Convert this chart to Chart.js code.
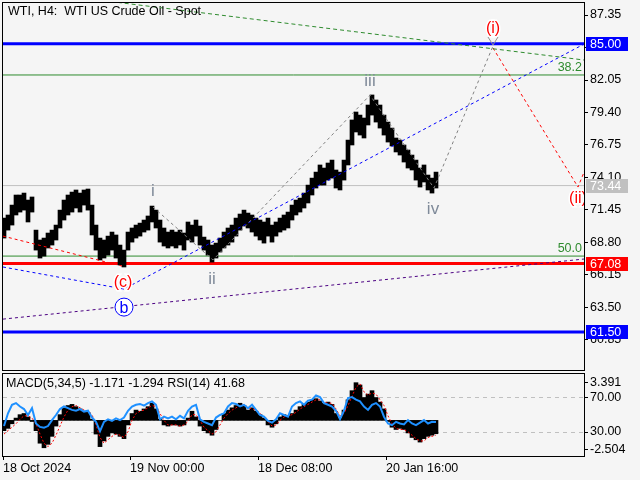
<!DOCTYPE html>
<html>
<head>
<meta charset="utf-8">
<script src="https://cdn.jsdelivr.net/npm/chart.js@4.4.1/dist/chart.umd.min.js"></script>
<style>
  html, body { margin: 0; padding: 0; background: #f5f5f5; }
  #wrap { position: relative; width: 640px; height: 480px; overflow: hidden; }
  canvas { position: absolute; left: 0; }
  #main { top: 0; }
  #sub { top: 372px; }
</style>
</head>
<body>
<div id="wrap">
  <canvas id="main" width="640" height="372"></canvas>
  <canvas id="sub" width="640" height="108"></canvas>
</div>
<script>
const FONT = '"Liberation Sans", Arial, sans-serif';
Chart.defaults.font.family = FONT;
Chart.defaults.font.size = 12.5;
Chart.defaults.color = '#000';

// axis ticks
const priceTicks = [87.35, 84.70, 82.05, 79.40, 76.75, 74.10, 71.45, 68.80, 66.15, 63.50, 60.85];
const macdTicks = [3.391, -2.504];
const rsiTicks = [70, 30];
const timeTicks = [0, 127, 255, 383];
const timeLabels = ['18 Oct 2024', '19 Nov 00:00', '18 Dec 08:00', '20 Jan 16:00'];

// price range per step (high / low)
const highs = [
  70.79, 71.04, 71.85, 72.67, 72.67, 72.83, 72.26, 72.51, 69.81, 69.00,
  69.16, 69.57, 69.81, 70.22, 71.44, 72.26, 72.67, 72.91, 73.08, 72.83,
  73.08, 73.16, 71.85, 70.22, 69.16, 69.00, 69.32, 69.65, 69.41, 68.59,
  68.18, 69.65, 69.98, 70.22, 70.38, 70.63, 70.96, 71.77, 71.44, 70.63,
  69.98, 69.65, 69.81, 69.65, 69.81, 69.57, 70.47, 70.22, 70.63, 70.14,
  69.24, 69.00, 68.59, 68.75, 69.16, 69.65, 69.98, 70.22, 70.79, 71.12,
  71.44, 71.20, 71.04, 70.79, 70.63, 70.47, 70.79, 70.22, 70.47, 70.79,
  71.04, 71.28, 71.85, 72.26, 72.42, 72.83, 73.48, 74.05, 74.54, 75.12,
  74.87, 75.28, 75.52, 74.71, 74.54, 75.52, 77.15, 78.79, 79.44, 79.19,
  78.95, 80.01, 80.83, 80.42, 80.01, 79.19, 78.62, 78.13, 77.32, 77.15,
  76.75, 76.34, 75.93, 75.52, 74.87, 75.12, 74.30, 74.05, 74.54
];
const lows = [
  69.16, 69.81, 70.22, 71.04, 71.28, 71.44, 70.47, 71.28, 68.18, 67.53,
  67.69, 68.35, 68.59, 69.00, 69.98, 70.63, 71.04, 71.28, 71.61, 71.28,
  71.85, 71.44, 69.41, 68.18, 67.37, 67.53, 67.77, 68.18, 67.53, 66.96,
  66.80, 68.18, 68.83, 69.16, 69.32, 69.65, 69.81, 70.47, 69.98, 68.83,
  68.51, 68.35, 68.51, 68.35, 68.59, 68.18, 69.00, 68.83, 69.32, 68.59,
  68.18, 67.77, 67.20, 67.53, 68.02, 68.35, 68.59, 68.83, 69.32, 69.81,
  70.14, 69.98, 69.65, 69.32, 69.00, 68.75, 69.32, 68.83, 69.32, 69.65,
  69.81, 69.98, 70.63, 71.04, 71.28, 71.61, 72.02, 72.67, 73.24, 73.48,
  73.48, 73.89, 74.05, 73.24, 73.08, 73.89, 75.12, 76.75, 77.81, 77.56,
  77.32, 78.38, 79.19, 78.62, 78.13, 77.56, 76.99, 76.67, 76.18, 75.93,
  75.36, 74.87, 74.71, 73.89, 73.32, 73.73, 73.08, 72.83, 73.24
];

// MACD(5,34,5) histogram, signal, RSI(14)
const macdHist = [
  -0.9, -0.7, -0.3, 0.2, 0.5, 0.6, 0.3, -0.1, -0.9, -2.0,
  -2.4, -2.1, -1.4, -0.5, 0.5, 1.1, 1.3, 1.4, 1.2, 1.0,
  0.8, 0.7, 0.1, -1.2, -2.3, -1.8, -1.4, -1.1, -1.2, -1.4,
  -1.6, -0.4, 0.6, 0.9, 0.8, 1.0, 1.2, 1.5, 1.0, 0.1,
  -0.4, -0.5, -0.4, -0.4, -0.5, -0.4, 0.2, 0.8, 0.3, -0.5,
  -0.9, -1.1, -1.3, -0.8, 0.0, 0.6, 0.9, 1.1, 1.3, 1.5,
  1.3, 0.9, 1.1, 0.8, 0.5, 0.2, -0.4, -0.6, -0.3, 0.3,
  0.5, 0.4, 0.6, 0.9, 1.2, 1.4, 1.6, 1.8, 1.9, 1.7,
  1.5, 1.6, 1.4, 0.6, 0.2, 0.9, 1.8, 2.6, 3.3, 3.1,
  2.0, 2.3, 2.6, 2.0, 1.6, 1.0, -0.1, -0.6, -0.8, -0.7,
  -0.8, -1.1, -1.5, -1.7, -1.9, -1.6, -1.4, -1.3, -1.17
];
const macdSignal = [
  -1.2, -0.9, -0.6, -0.3, 0.1, 0.4, 0.4, 0.2, -0.3, -1.2,
  -2.0, -2.3, -2.0, -1.3, -0.5, 0.3, 0.9, 1.2, 1.3, 1.1,
  0.9, 0.8, 0.5, -0.4, -1.5, -2.0, -1.7, -1.4, -1.2, -1.3,
  -1.5, -1.0, 0.0, 0.6, 0.8, 0.9, 1.1, 1.3, 1.2, 0.6,
  0.0, -0.4, -0.4, -0.4, -0.5, -0.4, -0.1, 0.5, 0.5, 0.0,
  -0.6, -0.9, -1.2, -1.0, -0.4, 0.2, 0.6, 0.9, 1.1, 1.3,
  1.4, 1.1, 1.0, 0.9, 0.6, 0.3, -0.1, -0.5, -0.4, 0.0,
  0.3, 0.4, 0.5, 0.7, 1.0, 1.2, 1.4, 1.6, 1.8, 1.8,
  1.6, 1.5, 1.5, 1.0, 0.4, 0.6, 1.3, 2.1, 2.9, 3.2,
  2.5, 2.2, 2.4, 2.3, 1.8, 1.3, 0.4, -0.3, -0.7, -0.8,
  -0.8, -1.0, -1.3, -1.6, -1.8, -1.8, -1.5, -1.4, -1.29
];
const rsiValues = [
  37, 52, 62, 64, 60, 57, 50, 58, 40, 36,
  35, 37, 44, 50, 57, 60, 58, 56, 55, 57,
  54, 55, 47, 42, 31, 42, 45, 43, 46, 44,
  47, 55, 60, 62, 63, 61, 64, 66, 62, 45,
  48, 46, 48, 45, 49, 46, 55, 60, 62, 45,
  42, 40, 38, 47, 50, 52, 60, 64, 63, 60,
  62, 58, 62, 56, 50, 48, 43, 41, 45, 52,
  50, 48, 60, 64, 66, 62, 67, 68, 73, 71,
  64, 62, 60, 55, 45, 55, 70, 71, 68, 66,
  60, 56, 62, 64, 60, 48, 40, 38, 42, 40,
  39, 44, 40, 38, 41, 44, 40, 42, 41.68
];

// drawn objects: [bar, price]
const fibTrend = [[80, 88.73], [581, 83.68]];
const waveLine = [[150, 71.69], [210, 67.37], [367, 80.82], [431, 73.24], [490, 84.82]];
const redLineA = [[0, 69.32], [119, 66.88]];
const redLineB = [[490, 84.66], [575, 73.32], [590, 76.34]];
const blueLine = [[0, 66.80], [121, 65.00], [581, 84.98]];
const purpleLine = [[0, 62.55], [581, 67.45]];
const fibLevels = [82.46, 67.69];
const fibNames = ['38.2', '50.0'];
const markLevels = [85.00, 73.44, 67.08, 61.50];
const markColors = ['#0000ff', '#c0c0c0', '#ff0000', '#0000ff'];

const waveMarks = [
  { text: 'i', bar: 150, price: 72.99, color: '#7f8a99', size: 17 },
  { text: 'ii', bar: 209, price: 65.82, color: '#7f8a99', size: 17 },
  { text: 'iii', bar: 367, price: 81.97, color: '#7f8a99', size: 17 },
  { text: 'iv', bar: 430, price: 71.53, color: '#7f8a99', size: 17 },
  { text: '(i)', bar: 490, price: 86.21, color: '#ff0000', size: 16, halo: true },
  { text: '(ii)', bar: 575, price: 72.34, color: '#ff0000', size: 16, halo: true },
  { text: '(c)', bar: 120, price: 65.49, color: '#ff0000', size: 16, halo: true }
];
const circleMark = { text: 'b', bar: 121, price: 63.53 };

const barX = highs.map((_, i) => 1 + i * 4);

function seg(pts, color, width, dash, order) {
  return {
    type: 'line',
    data: pts.map(p => ({ x: p[0], y: p[1] })),
    borderColor: color, borderWidth: width, borderDash: dash || [],
    pointRadius: 0, fill: false, tension: 0, order: order
  };
}

function frame(chart) {
  const { ctx, chartArea: a } = chart;
  ctx.save();
  ctx.strokeStyle = '#000';
  ctx.lineWidth = 1;
  ctx.strokeRect(Math.round(a.left) - 0.5, Math.round(a.top) - 0.5,
    Math.round(a.right - a.left) + 1, Math.round(a.bottom - a.top) + 1);
  ctx.restore();
}

const mainDecor = {
  id: 'mainDecor',
  afterDraw(chart) {
    const { ctx, chartArea: a } = chart;
    const xs = chart.scales.x, ys = chart.scales.y;
    frame(chart);
    ctx.save();
    // title
    ctx.font = '12.5px ' + FONT;
    ctx.fillStyle = '#000';
    ctx.textAlign = 'left';
    ctx.textBaseline = 'middle';
    ctx.fillText('WTI, H4:  WTI US Crude Oil - Spot', 8, 12);

    // fib level names
    ctx.fillStyle = '#2e8b2e';
    ctx.textAlign = 'right';
    ctx.textBaseline = 'bottom';
    fibLevels.forEach((lv, i) => ctx.fillText(fibNames[i], a.right - 2, ys.getPixelForValue(lv) - 1));

    // wave labels (clipped to plot)
    ctx.save();
    ctx.beginPath();
    ctx.rect(a.left, a.top, a.right - a.left, a.bottom - a.top);
    ctx.clip();
    ctx.textAlign = 'center';
    ctx.textBaseline = 'middle';
    waveMarks.forEach(m => {
      const px = xs.getPixelForValue(m.bar), py = ys.getPixelForValue(m.price);
      ctx.font = m.size + 'px ' + FONT;
      if (m.halo) {
        ctx.strokeStyle = '#fff';
        ctx.lineWidth = 3;
        ctx.strokeText(m.text, px, py);
      }
      ctx.fillStyle = m.color;
      ctx.fillText(m.text, px, py);
      if (m.text === '(i)') {
        ctx.strokeStyle = '#909090';
        ctx.lineWidth = 1;
        ctx.beginPath();
        ctx.moveTo(px - 5, py + 8);
        ctx.lineTo(px, py + 16);
        ctx.lineTo(px + 5, py + 8);
        ctx.stroke();
      }
    });
    // circled b
    const cx = xs.getPixelForValue(circleMark.bar), cy = ys.getPixelForValue(circleMark.price);
    ctx.fillStyle = '#fff';
    ctx.strokeStyle = '#0000ff';
    ctx.lineWidth = 1;
    ctx.beginPath();
    ctx.arc(cx, cy, 9, 0, Math.PI * 2);
    ctx.fill();
    ctx.stroke();
    ctx.font = '16px ' + FONT;
    ctx.fillStyle = '#0000ff';
    ctx.fillText(circleMark.text, cx, cy + 1);
    ctx.restore();

    // price marks on the right axis
    ctx.font = '12.5px ' + FONT;
    ctx.textAlign = 'left';
    ctx.textBaseline = 'middle';
    markLevels.forEach((lv, i) => {
      const py = Math.round(ys.getPixelForValue(lv));
      ctx.fillStyle = markColors[i];
      ctx.fillRect(a.right + 2, py - 7, 42, 14);
      ctx.fillStyle = '#fff';
      ctx.fillText(lv.toFixed(2), a.right + 6, py + 0.5);
    });
    ctx.restore();
  }
};

const subDecor = {
  id: 'subDecor',
  afterDraw(chart) {
    const { ctx, chartArea: a } = chart;
    frame(chart);
    ctx.save();
    ctx.font = '12.5px ' + FONT;
    ctx.fillStyle = '#000';
    ctx.textAlign = 'left';
    ctx.textBaseline = 'middle';
    ctx.fillText('MACD(5,34,5) -1.171 -1.294 RSI(14) 41.68', a.left + 3, a.top + 10);
    // MACD scale labels share the right margin with the RSI scale
    const ms = chart.scales.yMacd;
    ctx.strokeStyle = '#000';
    ctx.lineWidth = 1;
    macdTicks.forEach(v => {
      const py = Math.round(ms.getPixelForValue(v)) + 0.5;
      ctx.beginPath();
      ctx.moveTo(a.right, py);
      ctx.lineTo(a.right + 4, py);
      ctx.stroke();
      ctx.fillText(v.toFixed(3), a.right + 6, py);
    });
    ctx.restore();
  }
};

const horiz = (lv, color, width) => seg([[0, lv], [581, lv]], color, width, [], 3);

new Chart(document.getElementById('main'), {
  type: 'bar',
  data: {
    datasets: [
      seg(fibTrend, '#2e8b2e', 1, [4, 3], 1),
      seg(waveLine, '#808080', 1, [3, 3], 1),
      seg(redLineA, '#ff0000', 1, [3, 3], 1),
      seg(redLineB, '#ff0000', 1, [3, 3], 1),
      seg(blueLine, '#0000ff', 1, [3, 3], 1),
      seg(purpleLine, '#4b0082', 1, [3, 3], 1),
      {
        type: 'bar',
        data: barX.map((x, i) => ({ x: x, y: [lows[i], highs[i]] })),
        backgroundColor: '#000',
        borderWidth: 0,
        barPercentage: 1,
        categoryPercentage: 1,
        order: 2
      },
      horiz(markLevels[0], '#0000ff', 3),
      horiz(fibLevels[0], '#2e8b2e', 1),
      horiz(markLevels[1], '#c0c0c0', 1),
      horiz(fibLevels[1], '#2e8b2e', 1),
      horiz(markLevels[2], '#ff0000', 3),
      horiz(markLevels[3], '#0000ff', 3)
    ]
  },
  options: {
    responsive: false,
    animation: false,
    devicePixelRatio: 1,
    layout: { padding: { left: 3, top: 3, bottom: 2, right: 0 } },
    plugins: { legend: { display: false }, tooltip: { enabled: false } },
    scales: {
      x: { type: 'linear', min: 0, max: 581, display: false, offset: false, grid: { offset: false } },
      y: {
        position: 'right', min: 58.40, max: 88.33,
        afterBuildTicks: s => { s.ticks = priceTicks.map(v => ({ value: v })); },
        afterFit: s => { s.width = 56; s.paddingTop = 0; s.paddingBottom = 0; },
        border: { display: false },
        grid: { drawOnChartArea: false, tickLength: 4, tickColor: '#000' },
        ticks: { padding: 2, color: '#000', callback: v => Number(v).toFixed(2) }
      }
    }
  },
  plugins: [mainDecor]
});

new Chart(document.getElementById('sub'), {
  type: 'bar',
  data: {
    datasets: [
      {
        type: 'line', yAxisID: 'yRsi',
        data: barX.map((x, i) => ({ x: x, y: rsiValues[i] })),
        borderColor: '#1e90ff', borderWidth: 2, pointRadius: 0, tension: 0, order: 1
      },
      {
        type: 'line', yAxisID: 'yMacd',
        data: barX.map((x, i) => ({ x: x, y: macdSignal[i] })),
        borderColor: '#ff0000', borderWidth: 1, borderDash: [2, 2], pointRadius: 0, tension: 0, order: 2
      },
      {
        type: 'bar', yAxisID: 'yMacd',
        data: barX.map((x, i) => ({ x: x, y: macdHist[i] })),
        backgroundColor: '#000', borderWidth: 0,
        barPercentage: 1, categoryPercentage: 1, order: 3
      }
    ]
  },
  options: {
    responsive: false,
    animation: false,
    devicePixelRatio: 1,
    layout: { padding: { left: 3, top: 2, bottom: 0, right: 0 } },
    plugins: { legend: { display: false }, tooltip: { enabled: false } },
    scales: {
      x: {
        type: 'linear', min: 0, max: 581, offset: false,
        afterBuildTicks: s => { s.ticks = timeTicks.map(v => ({ value: v })); },
        afterFit: s => { s.height = 24; s.paddingLeft = 0; s.paddingRight = 0; },
        border: { display: false },
        grid: { drawOnChartArea: false, offset: false, tickLength: 4, tickColor: '#000' },
        ticks: {
          align: 'start', autoSkip: false, maxRotation: 0, padding: 1, color: '#000',
          callback: v => timeLabels[timeTicks.indexOf(v)]
        }
      },
      yMacd: {
        axis: 'y', position: 'right', display: false, min: -3.12, max: 4.06
      },
      yRsi: {
        axis: 'y', position: 'right', min: 1.8, max: 98.2,
        afterBuildTicks: s => { s.ticks = rsiTicks.map(v => ({ value: v })); },
        afterFit: s => { s.width = 56; s.paddingTop = 0; s.paddingBottom = 0; },
        border: { display: false, dash: [4, 4] },
        grid: { drawOnChartArea: true, color: '#c0c0c0', tickLength: 4, tickColor: '#000' },
        ticks: { padding: 2, color: '#000', callback: v => Number(v).toFixed(2) }
      }
    }
  },
  plugins: [subDecor]
});
</script>
</body>
</html>
